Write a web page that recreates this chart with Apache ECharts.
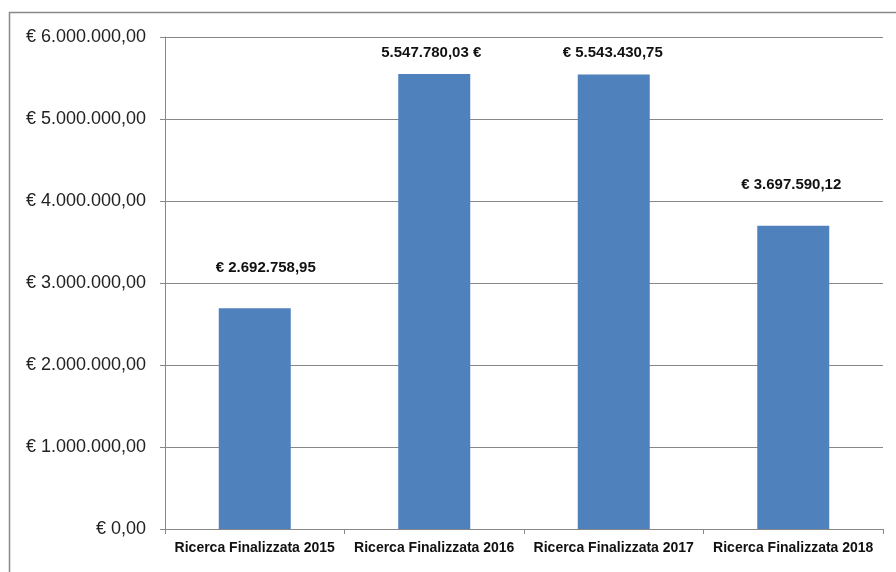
<!DOCTYPE html>
<html>
<head>
<meta charset="utf-8">
<script src="https://cdn.jsdelivr.net/npm/echarts@6/dist/echarts.min.js"></script>
<style>
  html, body { margin: 0; padding: 0; background: #fff; }
  #chart { width: 896px; height: 572px; }
</style>
</head>
<body>
<div id="chart"></div>
<script>
// dati
const categories = ['Ricerca Finalizzata 2015', 'Ricerca Finalizzata 2016', 'Ricerca Finalizzata 2017', 'Ricerca Finalizzata 2018'];
const values = [2692758.95, 5547780.03, 5543430.75, 3697590.12];
const valueLabels = ['€ 2.692.758,95', '5.547.780,03 €', '€ 5.543.430,75', '€ 3.697.590,12'];
const yTicks = [0, 1000000, 2000000, 3000000, 4000000, 5000000, 6000000];
// distanza etichetta dalla barra (Excel le sposta sopra le griglie)
const labelGap = [33, 14, 14, 33];
const labelShift = [11, -3, -1, -2];

function euro(v) {
  let s = Math.round(v).toString().replace(/\B(?=(\d{3})+(?!\d))/g, '.');
  return '€ ' + s + ',00';
}

let myChart = echarts.init(document.getElementById('chart'));
myChart.setOption({
  backgroundColor: '#fff',
  animation: false,
  graphic: [{
    type: 'rect',
    shape: { x: 9.5, y: 12.5, width: 950, height: 650 },
    style: { fill: 'none', stroke: '#888', lineWidth: 1.5 },
    silent: true
  }],
  grid: { left: 165, right: 13, top: 37, bottom: 43 },
  xAxis: {
    type: 'category',
    data: categories,
    axisLine: { lineStyle: { color: '#888' } },
    axisTick: { show: true, length: 5, interval: 0, lineStyle: { color: '#888' } },
    axisLabel: {
      interval: 0,
      margin: 12,
      fontFamily: 'Liberation Sans',
      fontWeight: 'bold',
      fontSize: 14,
      color: '#111'
    }
  },
  yAxis: {
    type: 'value',
    min: yTicks[0],
    max: yTicks[yTicks.length - 1],
    interval: 1000000,
    axisLine: { show: true, lineStyle: { color: '#888' } },
    axisTick: { show: true, length: 5, lineStyle: { color: '#888' } },
    splitLine: { lineStyle: { color: '#888' } },
    axisLabel: {
      margin: 19,
      fontFamily: 'Liberation Sans',
      fontSize: 18,
      color: '#222',
      formatter: function (v) { return v === 0 ? '€ 0,00' : euro(v); }
    }
  },
  series: [{
    type: 'bar',
    barWidth: 72,
    itemStyle: { color: '#4F81BD' },
    data: values.map(function (v, i) {
      return {
        value: v,
        label: {
          show: true,
          position: 'top',
          distance: labelGap[i],
          offset: [labelShift[i], 0],
          formatter: valueLabels[i],
          fontFamily: 'Liberation Sans',
          fontWeight: 'bold',
          fontSize: 15,
          color: '#111'
        }
      };
    })
  }]
});
</script>
</body>
</html>
